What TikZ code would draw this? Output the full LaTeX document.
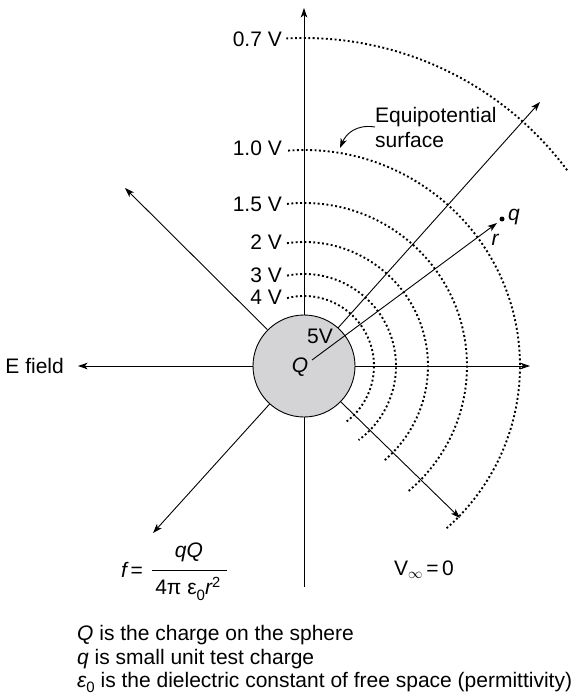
\documentclass[tikz,border=0pt]{standalone}
\usepackage{fontspec}
\setmainfont{Liberation Sans}
\usetikzlibrary{arrows.meta}
\definecolor{spheregray}{RGB}{212,212,214}
\newcommand{\lowsub}[1]{\raisebox{-0.28em}{\fontsize{15}{15}\selectfont #1}}
\begin{document}
\begin{tikzpicture}[x=1pt,y=-1pt,
  font=\fontsize{21}{25}\selectfont,
  fieldline/.style={line width=0.9pt},
  arr/.style={fieldline,-{Stealth[length=9.5pt,width=6.5pt,inset=2.5pt]}},
  equi/.style={line width=1.9pt,dash pattern=on 1.9pt off 2.5pt},
  lbl/.style={inner sep=0pt}]
\useasboundingbox (0,0) rectangle (578,698);
% sphere
\node[circle,draw,line width=0.9pt,fill=spheregray,minimum size=102pt,inner sep=0pt] (Q) at (304,366) {};
% field line ends
\coordinate (top) at (304,8);
\coordinate (bot) at (304,587);
\coordinate (left) at (78,366);
\coordinate (right) at (530,366);
\coordinate (nw) at (125,188);
\coordinate (sw) at (153,533);
\coordinate (se) at (460,518);
\coordinate (ne) at (540,102);
\coordinate (rstart) at (312,360);
\coordinate (rtip) at (497,223);
\draw[arr] (Q) -- (top);
\draw[fieldline] (Q) -- (bot);
\draw[arr] (Q) -- (left);
\draw[arr] (Q) -- (right);
\draw[arr] (Q) -- (nw);
\draw[arr] (Q) -- (sw);
\draw[arr] (Q) -- (se);
\draw[arr] (Q) -- (ne);
% equipotential arcs
\draw[equi] (Q.center) ++(-93.1:328) arc[start angle=-93.1,end angle=-36.6,radius=328];
\draw[equi] (Q.center) ++(-94.2:216) arc[start angle=-94.2,end angle=49.3,radius=216];
\draw[equi] (Q.center) ++(-96:163) arc[start angle=-96,end angle=50.5,radius=163];
\draw[equi] (Q.center) ++(-97.9:124) arc[start angle=-97.9,end angle=50,radius=124];
\draw[equi] (Q.center) ++(-100.6:92) arc[start angle=-100.6,end angle=53.6,radius=92];
\draw[equi] (Q.center) ++(-104:70) arc[start angle=-104,end angle=54,radius=70];
% labels of arcs
\node[lbl,anchor=east] (v07) at (282,39) {0.7 V};
\node[lbl,anchor=east] (v10) at (282,148) {1.0 V};
\node[lbl,anchor=east] (v15) at (282,204) {1.5 V};
\node[lbl,anchor=east] (v2) at (282,242) {2 V};
\node[lbl,anchor=east] (v3) at (282,275) {3 V};
\node[lbl,anchor=east] (v4) at (282,297) {4 V};
% sphere labels
\node[lbl] (Qlab) at (300,367) {\itshape Q};
\node[lbl] (fivev) at (320,336) {5V};
% r vector and test charge
\draw[arr] (rstart) -- (rtip);
\node[circle,fill,inner sep=0pt,minimum size=5pt] (qdot) at (502,219) {};
\node[lbl] (qlab) at (514,217) {\itshape q};
\node[lbl] (rlab) at (495,240) {\itshape r};
% equipotential label
\node[lbl,align=left,anchor=west] (eqlab) at (375,127) {Equipotential\\surface};
\coordinate (eqtip) at (340,148);
\draw[arr] (eqlab.west) .. controls (356,124) and (346,134) .. (eqtip);
% E field
\node[lbl,anchor=east] (efield) at (64,366) {E field};
% formula
\node[lbl,anchor=west] (feq) at (121,570) {{\itshape f}\,=};
\node[lbl] (fnum) at (189,552) {\itshape qQ};
\node[lbl] (fden) at (188,589) {4π ε\lowsub{0}{\itshape r}\textsuperscript{2}};
\coordinate (barL) at (152,570);
\coordinate (barR) at (227,570);
\draw[fieldline] (barL) -- (barR);
\node[lbl] (vinf) at (424,570) {V\textsubscript{$\infty$}\,=\,0};
% legend
\node[lbl,anchor=base west] (leg1) at (77,640) {{\itshape Q} is the charge on the sphere};
\node[lbl,anchor=base west] (leg2) at (77,664) {{\itshape q} is small unit test charge};
\node[lbl,anchor=base west] (leg3) at (77,687) {{\itshape ε}\lowsub{0} is the dielectric constant of free space (permittivity)};
\end{tikzpicture}
\end{document}
